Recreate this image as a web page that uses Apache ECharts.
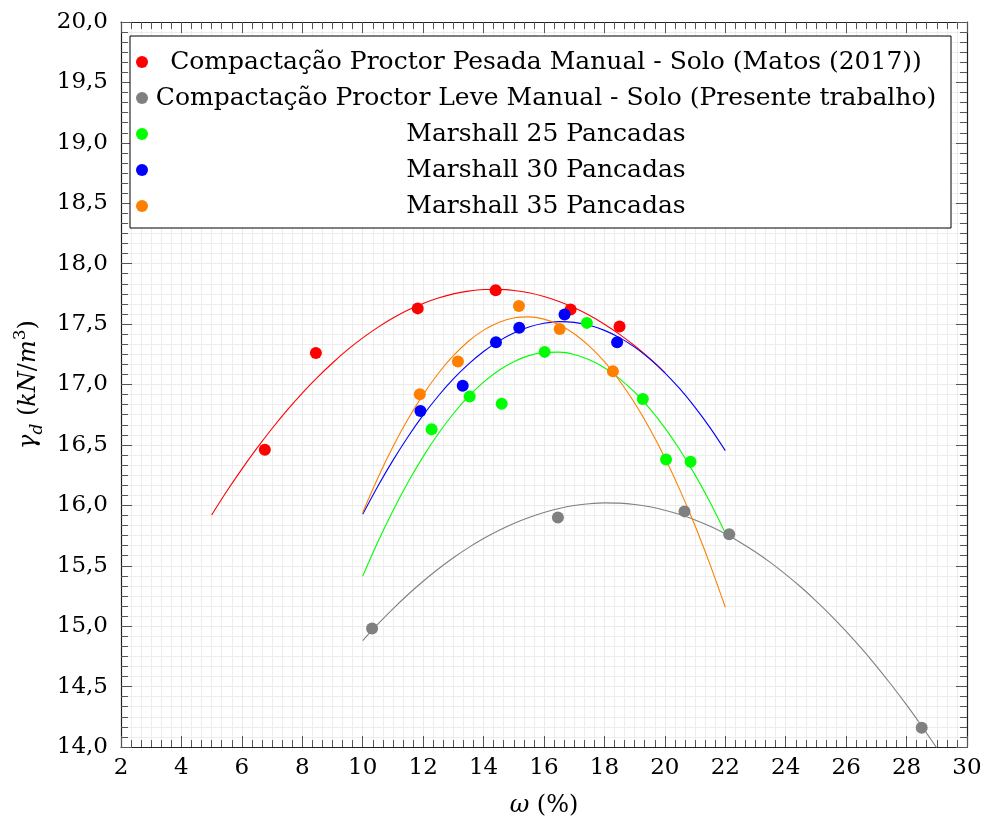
<!DOCTYPE html>
<html>
<head>
<meta charset="utf-8">
<script src="https://cdn.jsdelivr.net/npm/echarts@6/dist/echarts.min.js"></script>
<style>
html,body{margin:0;padding:0;background:#fff;}
#chart{width:990px;height:828px;}
</style>
</head>
<body>
<div id="chart"></div>
<script>
// ---- Data ----
const legendNames = [
  'Compactação Proctor Pesada Manual - Solo (Matos (2017))',
  'Compactação Proctor Leve Manual - Solo (Presente trabalho)',
  'Marshall 25 Pancadas',
  'Marshall 30 Pancadas',
  'Marshall 35 Pancadas'
];
const colors = ['#ff0000', '#808080', '#00ff00', '#0000ff', '#ff8000'];

// measured points (omega %, gamma_d kN/m3)
const pesadaX = [6.76, 8.45, 11.82, 14.40, 16.88, 18.50];
const pesadaY = [16.46, 17.26, 17.63, 17.78, 17.62, 17.48];
const leveX = [10.31, 16.46, 20.65, 22.13, 28.50];
const leveY = [14.98, 15.90, 15.95, 15.76, 14.16];
const m25X = [12.28, 13.54, 14.60, 16.02, 17.42, 19.27, 20.04, 20.85];
const m25Y = [16.63, 16.90, 16.84, 17.27, 17.51, 16.88, 16.38, 16.36];
const m30X = [11.91, 13.31, 14.41, 15.18, 16.68, 18.42];
const m30Y = [16.78, 16.99, 17.35, 17.47, 17.58, 17.35];
const m35X = [11.89, 13.15, 15.17, 16.52, 18.28];
const m35Y = [16.92, 17.19, 17.65, 17.46, 17.11];

const pesadaCurveX = [5, 5.5, 6, 6.5, 7, 7.5, 8, 8.5, 9, 9.5, 10, 10.5, 11, 11.5, 12, 12.5, 13, 13.5, 14, 14.5, 15, 15.5, 16, 16.5, 17, 17.5, 18, 18.5, 19, 19.5, 20];
const pesadaCurveY = [15.920, 16.116, 16.300, 16.473, 16.636, 16.788, 16.929, 17.059, 17.178, 17.288, 17.386, 17.473, 17.550, 17.616, 17.671, 17.716, 17.750, 17.773, 17.786, 17.787, 17.778, 17.759, 17.728, 17.687, 17.635, 17.573, 17.499, 17.415, 17.321, 17.215, 17.099];
const leveCurveX = [10, 10.5, 11, 11.5, 12, 12.5, 13, 13.5, 14, 14.5, 15, 15.5, 16, 16.5, 17, 17.5, 18, 18.5, 19, 19.5, 20, 20.5, 21, 21.5, 22, 22.5, 23, 23.5, 24, 24.5, 25, 25.5, 26, 26.5, 27, 27.5, 28, 28.5, 29];
const leveCurveY = [14.880, 15.016, 15.143, 15.262, 15.372, 15.473, 15.566, 15.650, 15.725, 15.792, 15.850, 15.900, 15.941, 15.974, 15.998, 16.013, 16.020, 16.018, 16.007, 15.988, 15.960, 15.924, 15.879, 15.826, 15.764, 15.693, 15.614, 15.526, 15.429, 15.324, 15.210, 15.088, 14.957, 14.818, 14.670, 14.513, 14.348, 14.174, 13.992];
const m25CurveX = [10, 10.5, 11, 11.5, 12, 12.5, 13, 13.5, 14, 14.5, 15, 15.5, 16, 16.5, 17, 17.5, 18, 18.5, 19, 19.5, 20, 20.5, 21, 21.5, 22];
const m25CurveY = [15.414, 15.696, 15.955, 16.191, 16.403, 16.592, 16.758, 16.901, 17.020, 17.116, 17.189, 17.239, 17.265, 17.268, 17.249, 17.205, 17.139, 17.049, 16.936, 16.800, 16.641, 16.458, 16.252, 16.023, 15.771];
const m30CurveX = [10, 10.5, 11, 11.5, 12, 12.5, 13, 13.5, 14, 14.5, 15, 15.5, 16, 16.5, 17, 17.5, 18, 18.5, 19, 19.5, 20, 20.5, 21, 21.5, 22];
const m30CurveY = [15.926, 16.158, 16.372, 16.568, 16.746, 16.905, 17.046, 17.168, 17.273, 17.359, 17.426, 17.476, 17.507, 17.520, 17.514, 17.490, 17.448, 17.388, 17.309, 17.212, 17.097, 16.963, 16.811, 16.641, 16.453];
const m35CurveX = [10, 10.5, 11, 11.5, 12, 12.5, 13, 13.5, 14, 14.5, 15, 15.5, 16, 16.5, 17, 17.5, 18, 18.5, 19, 19.5, 20, 20.5, 21, 21.5, 22];
const m35CurveY = [15.940, 16.226, 16.484, 16.714, 16.916, 17.091, 17.238, 17.358, 17.450, 17.514, 17.551, 17.560, 17.541, 17.494, 17.420, 17.318, 17.189, 17.031, 16.847, 16.634, 16.394, 16.126, 15.831, 15.507, 15.157];

// axis ticks
const xMin = 2, xMax = 30, xStep = 2;
const yMin = 14, yMax = 20, yStep = 0.5;

// ---- Build chart ----
const FONT = 'DejaVu Serif';
const zip = (xs, ys) => xs.map((x, i) => [x, ys[i]]);

const pointSets = [[pesadaX, pesadaY], [leveX, leveY], [m25X, m25Y], [m30X, m30Y], [m35X, m35Y]];
const curveSets = [[pesadaCurveX, pesadaCurveY], [leveCurveX, leveCurveY], [m25CurveX, m25CurveY], [m30CurveX, m30CurveY], [m35CurveX, m35CurveY]];

const series = [];
curveSets.forEach((c, i) => {
  series.push({
    name: 'fit' + i,
    type: 'line',
    data: zip(c[0], c[1]),
    smooth: 0.3,
    showSymbol: false,
    symbol: 'none',
    clip: true,
    lineStyle: {color: colors[i], width: 1.1},
    itemStyle: {color: colors[i]},
    z: 2,
    silent: true
  });
});
pointSets.forEach((p, i) => {
  series.push({
    name: legendNames[i],
    type: 'scatter',
    data: zip(p[0], p[1]),
    symbol: 'circle',
    symbolSize: 12,
    itemStyle: {color: colors[i], opacity: 1},
    z: 3
  });
});

const tickStyle = {color: '#555', width: 1};
const gridLine = {show: true, lineStyle: {color: '#ebebeb', width: 1}};
const minorGridLine = {show: true, lineStyle: {color: '#ededed', width: 1}};

const option = {
  animation: false,
  backgroundColor: '#fff',
  textStyle: {fontFamily: FONT},
  grid: {left: 121, right: 23, top: 22, bottom: 81, containLabel: false},
  legend: {
    data: legendNames,
    orient: 'vertical',
    left: 130,
    top: 36,
    padding: [11, 12, 7, 6],
    itemGap: 6,
    itemWidth: 12,
    itemHeight: 12,
    icon: 'circle',
    backgroundColor: '#fff',
    borderColor: '#000',
    borderWidth: 1,
    borderRadius: 0,
    selectedMode: false,
    z: 10,
    formatter: n => '{t|' + n + '}',
    textStyle: {
      color: '#000',
      fontFamily: FONT,
      fontSize: 25,
      lineHeight: 30,
      rich: {t: {width: 786, height: 30, align: 'center', fontSize: 25, fontFamily: FONT, lineHeight: 30, color: '#000'}}
    }
  },
  xAxis: [{
    type: 'value',
    min: xMin, max: xMax, interval: xStep,
    position: 'bottom',
    name: '{i|ω} (%)',
    nameLocation: 'middle',
    nameGap: 47,
    nameTextStyle: {
      color: '#000', fontFamily: FONT, fontSize: 24,
      rich: {i: {fontStyle: 'italic', fontFamily: FONT, fontSize: 24, color: '#000'}}
    },
    axisLine: {show: true, onZero: false, lineStyle: {color: '#222', width: 1.2}},
    axisTick: {show: true, inside: true, length: 11, lineStyle: tickStyle},
    minorTick: {show: true, splitNumber: 6, length: 7, lineStyle: tickStyle},
    axisLabel: {show: true, margin: 10, color: '#000', fontFamily: FONT, fontSize: 23},
    splitLine: gridLine,
    minorSplitLine: minorGridLine
  }, {
    type: 'value',
    min: xMin, max: xMax, interval: xStep,
    position: 'top',
    axisLine: {show: true, onZero: false, lineStyle: {color: '#222', width: 1.2}},
    axisTick: {show: true, inside: true, length: 11, lineStyle: tickStyle},
    minorTick: {show: true, splitNumber: 6, length: 7, lineStyle: tickStyle},
    axisLabel: {show: false},
    splitLine: {show: false}
  }],
  yAxis: [{
    type: 'value',
    min: yMin, max: yMax, interval: yStep,
    position: 'left',
    name: '{i|γ}{sub|d} ({i|kN}/{i|m}{sup|3})',
    nameLocation: 'middle',
    nameRotate: 90,
    nameGap: 74,
    nameTextStyle: {
      color: '#000', fontFamily: FONT, fontSize: 24, lineHeight: 34,
      rich: {
        i: {fontStyle: 'italic', fontFamily: FONT, fontSize: 24, color: '#000', lineHeight: 34},
        sub: {fontStyle: 'italic', fontFamily: FONT, fontSize: 17, color: '#000', verticalAlign: 'bottom', lineHeight: 28},
        sup: {fontFamily: FONT, fontSize: 17, color: '#000', verticalAlign: 'top', lineHeight: 28}
      }
    },
    axisLine: {show: true, onZero: false, lineStyle: {color: '#222', width: 1.2}},
    axisTick: {show: true, inside: true, length: 11, lineStyle: tickStyle},
    minorTick: {show: true, splitNumber: 6, length: 7, lineStyle: tickStyle},
    axisLabel: {
      show: true, margin: 13, color: '#000', fontFamily: FONT, fontSize: 23,
      formatter: v => v.toFixed(1).replace('.', ',')
    },
    splitLine: gridLine,
    minorSplitLine: minorGridLine
  }, {
    type: 'value',
    min: yMin, max: yMax, interval: yStep,
    position: 'right',
    axisLine: {show: true, onZero: false, lineStyle: {color: '#222', width: 1.2}},
    axisTick: {show: true, inside: true, length: 11, lineStyle: tickStyle},
    minorTick: {show: true, splitNumber: 6, length: 7, lineStyle: tickStyle},
    axisLabel: {show: false},
    splitLine: {show: false}
  }],
  series: series
};

const chart = echarts.init(document.getElementById('chart'), null, {renderer: 'canvas'});
chart.setOption(option);
</script>
</body>
</html>
